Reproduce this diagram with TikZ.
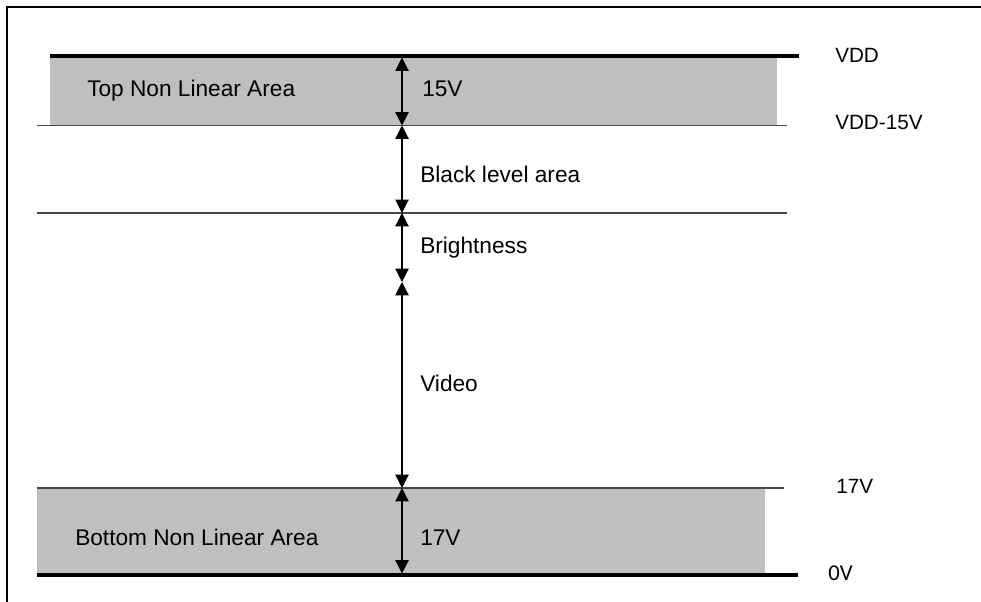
\documentclass[tikz,border=0pt]{standalone}
\usepackage{fontspec}
\setmainfont{Liberation Sans}
\newfontfamily\carl{Carlito}
\usetikzlibrary{arrows.meta}
\begin{document}
\begin{tikzpicture}[x=0.75pt,y=-0.75pt,
  lbl/.style={font=\fontsize{17}{20}\selectfont, inner sep=0pt, anchor=west, text height=12.2pt, text depth=0pt},
  rlbl/.style={lbl, font=\fontsize{15.5}{18}\selectfont, text height=11.1pt},
  tip/.tip={Triangle[width=10pt,length=10pt]},
  dim/.style={tip-tip, line width=0.8pt},
  thickrail/.style={line width=2.3pt},
  thinrail/.style={line width=1.1pt, draw=black!72},
  band/.style={fill=black!25, draw=none},
  frameline/.style={line width=1.6pt}]
\useasboundingbox (0,0) rectangle (981,602);
\draw[frameline] (7,602) -- (7,7) -- (981,7);
% shaded bands
\fill[band] (50,57) rectangle (777,125);
\fill[band] (37,488) rectangle (765,575);
% rails
\draw[thickrail] (50,56) -- (799,56);
\draw[thinrail] (37,125.5) -- (787,125.5);
\draw[thinrail] (37,213) -- (787,213);
\draw[thinrail] (37,488) -- (784,488);
\draw[thickrail] (37,575) -- (798,575);
% dimension points
\coordinate (p0) at (402,57.5);
\coordinate (p1) at (402,125.5);
\coordinate (p2) at (402,213);
\coordinate (p3) at (402,282);
\coordinate (p4) at (402,488);
\coordinate (p5) at (402,573.5);
\draw[dim] (p0) -- (p1);
\draw[dim] (p1) -- (p2);
\draw[dim] (p2) -- (p3);
\draw[dim] (p3) -- (p4);
\draw[dim] (p4) -- (p5);
% labels
\node[lbl] (topnl) at (87,88) {Top Non Linear Area};
\node[lbl] (v15) at (422,88) {15V};
\node[lbl] (blk) at (420,174) {Black level area};
\node[lbl] (brt) at (420,245) {Brightness};
\node[lbl] (vid) at (420,383) {Video};
\node[lbl] (botnl) at (75,537) {Bottom Non Linear Area};
\node[lbl] (v17) at (420,537) {17V};
\node[rlbl] (vdd) at (835,55) {VDD};
\node[rlbl] (vdd15) at (835,122) {VDD-15V};
\node[rlbl] (r17) at (836,486) {17V};
\node[lbl, font=\carl\fontsize{17}{20}\selectfont, text height=11pt] (r0) at (828,573) {0V};
\end{tikzpicture}
\end{document}
